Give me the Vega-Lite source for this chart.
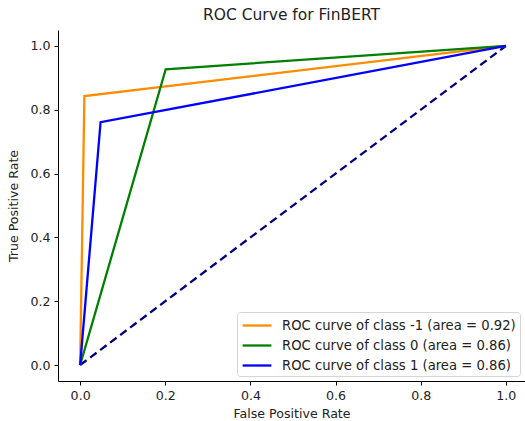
{
  "$schema": "https://vega.github.io/schema/vega-lite/v6.json",
  "autosize": "none",
  "width": 467,
  "height": 351,
  "padding": {"left": 58, "top": 30, "right": 0, "bottom": 40},
  "background": "white",
  "config": {
    "font": "DejaVu Sans",
    "view": {"stroke": null},
    "axis": {"grid": false, "domainColor": "black", "domainWidth": 1, "tickColor": "black", "labelColor": "#222", "labelFontSize": 12.6, "titleFontSize": 12.6, "titleFontWeight": "normal", "titleColor": "#222", "tickSize": 4, "labelPadding": 4}
  },
  "title": {"text": "ROC Curve for FinBERT", "fontSize": 15.5, "fontWeight": "normal", "color": "#222", "offset": 7},
  "datasets": {
    "roc": [
      {"cls": "ROC curve of class -1 (area = 0.92)", "order": 0, "fpr": 0.0, "tpr": 0.0},
      {"cls": "ROC curve of class -1 (area = 0.92)", "order": 1, "fpr": 0.01, "tpr": 0.843},
      {"cls": "ROC curve of class -1 (area = 0.92)", "order": 2, "fpr": 1.0, "tpr": 1.0},
      {"cls": "ROC curve of class 0 (area = 0.86)", "order": 0, "fpr": 0.0, "tpr": 0.0},
      {"cls": "ROC curve of class 0 (area = 0.86)", "order": 1, "fpr": 0.201, "tpr": 0.927},
      {"cls": "ROC curve of class 0 (area = 0.86)", "order": 2, "fpr": 1.0, "tpr": 1.0},
      {"cls": "ROC curve of class 1 (area = 0.86)", "order": 0, "fpr": 0.0, "tpr": 0.0},
      {"cls": "ROC curve of class 1 (area = 0.86)", "order": 1, "fpr": 0.048, "tpr": 0.761},
      {"cls": "ROC curve of class 1 (area = 0.86)", "order": 2, "fpr": 1.0, "tpr": 1.0}
    ],
    "diag": [
      {"fpr": 0.0, "tpr": 0.0},
      {"fpr": 1.0, "tpr": 1.0}
    ]
  },
  "layer": [
    {
      "mark": {"type": "rule", "color": "black", "strokeWidth": 1},
      "encoding": {"y": {"datum": 1.05}}
    },
    {
      "data": {"name": "diag"},
      "mark": {"type": "line", "color": "navy", "strokeWidth": 2.3, "strokeDash": [8, 4.5]},
      "encoding": {
        "x": {"field": "fpr", "type": "quantitative"},
        "y": {"field": "tpr", "type": "quantitative"}
      }
    },
    {
      "data": {"name": "roc"},
      "mark": {"type": "line", "strokeWidth": 2.3},
      "encoding": {
        "x": {"field": "fpr", "type": "quantitative", "title": "False Positive Rate", "scale": {"domain": [-0.052, 1.045], "nice": false, "zero": false}, "axis": {"values": [0, 0.2, 0.4, 0.6, 0.8, 1.0], "format": ".1f", "titlePadding": 6}},
        "y": {"field": "tpr", "type": "quantitative", "title": "True Positive Rate", "scale": {"domain": [-0.05, 1.05], "nice": false, "zero": false}, "axis": {"values": [0, 0.2, 0.4, 0.6, 0.8, 1.0], "format": ".1f", "titlePadding": 9}},
        "order": {"field": "order"},
        "color": {
          "field": "cls", "type": "nominal",
          "scale": {"domain": ["ROC curve of class -1 (area = 0.92)", "ROC curve of class 0 (area = 0.86)", "ROC curve of class 1 (area = 0.86)"], "range": ["darkorange", "green", "blue"]},
          "legend": {"title": null, "orient": "bottom-right", "symbolType": "M-1.8,0L1.8,0", "symbolStrokeWidth": 2.3, "symbolSize": 256, "symbolOffset": 6.5, "labelFontSize": 13.2, "labelColor": "#222", "labelOffset": 15.5, "strokeColor": "#d5d5d5", "fillColor": "white", "padding": 4, "cornerRadius": 3, "rowPadding": 4, "offset": 5, "labelLimit": 400}
        }
      }
    }
  ]
}
